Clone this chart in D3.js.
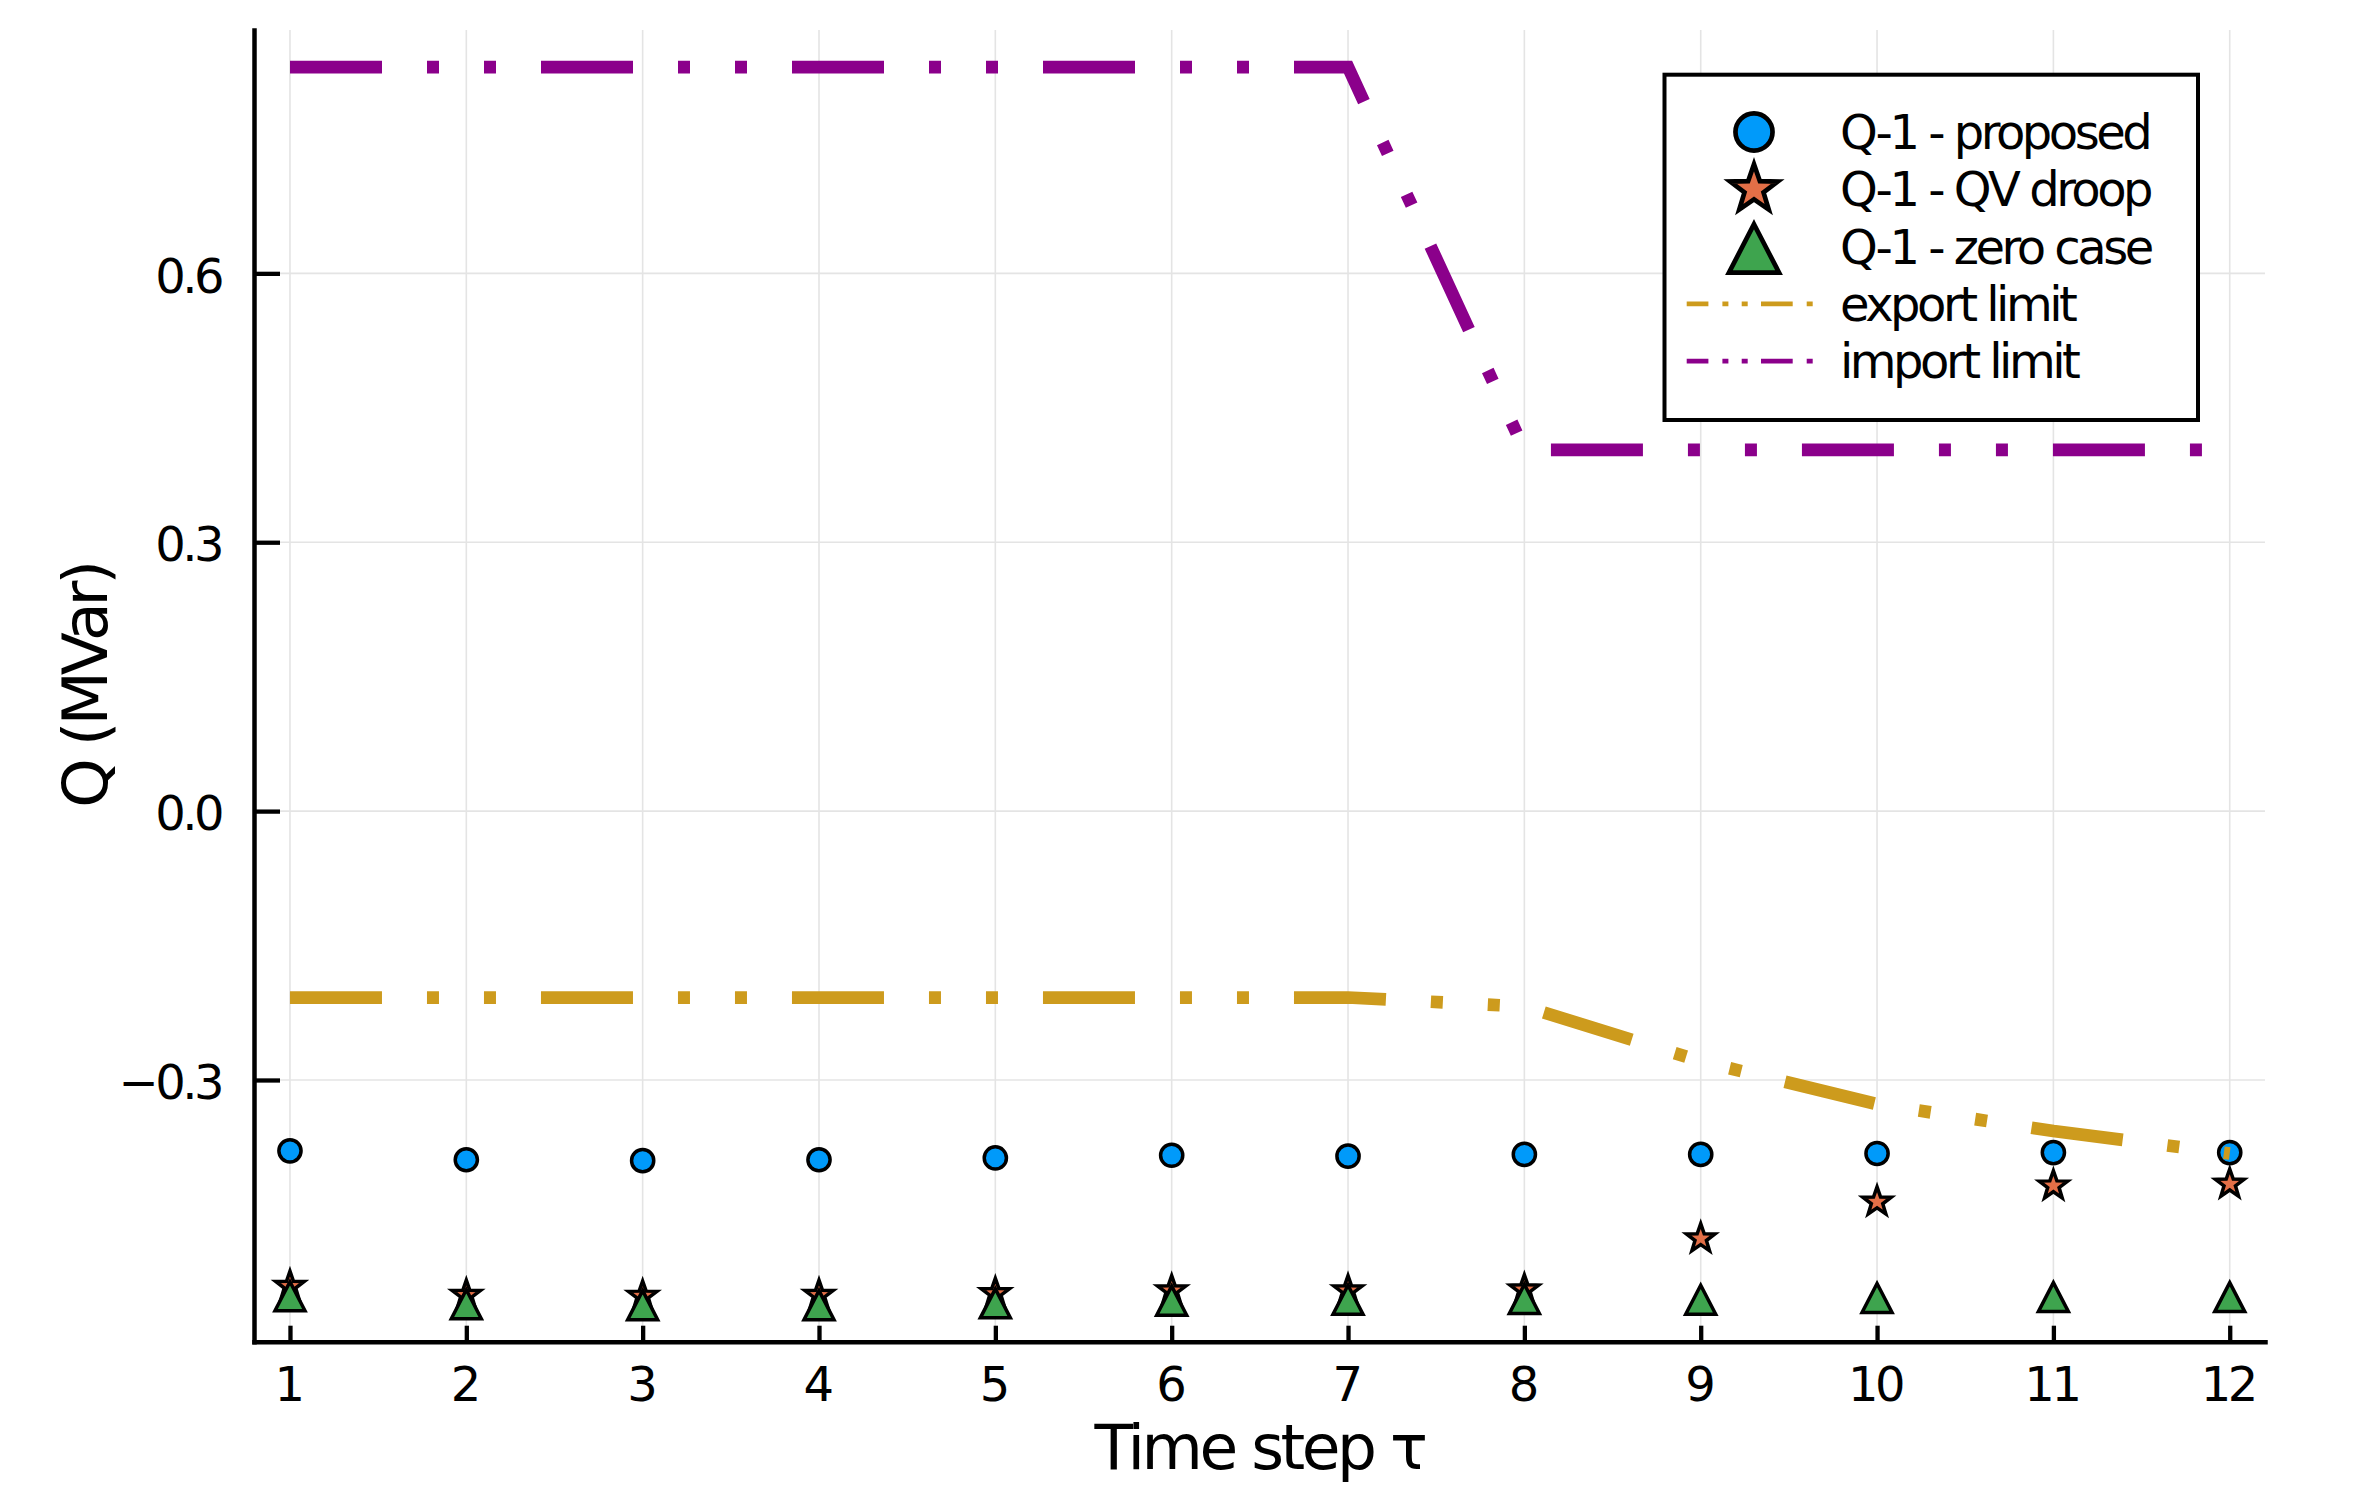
<!DOCTYPE html>
<html>
<head>
<meta charset="utf-8">
<script src="https://cdn.jsdelivr.net/npm/d3@7"></script>
<style>
  body { margin: 0; background: #fff; }
  svg { display: block; }
</style>
</head>
<body>
<svg id="chart" width="2365" height="1494"></svg>
<script>
(function () {

    'use strict';

    // data
    var timeSteps = [1, 2, 3, 4, 5, 6, 7, 8, 9, 10, 11, 12];
    var qProposed = [-0.379, -0.389, -0.390, -0.389, -0.387, -0.384, -0.385, -0.383, -0.383, -0.382, -0.381, -0.381];
    var qDroop = [-0.530, -0.540, -0.541, -0.540, -0.538, -0.535, -0.535, -0.534, -0.477, -0.436, -0.418, -0.416];
    var qZero = [-0.540, -0.549, -0.550, -0.550, -0.548, -0.545, -0.544, -0.543, -0.544, -0.542, -0.541, -0.541];
    var exportLimit = [-0.208, -0.208, -0.208, -0.208, -0.208, -0.208, -0.208, -0.218, -0.279, -0.327, -0.357, -0.382];
    var importLimit = [0.830, 0.830, 0.830, 0.830, 0.830, 0.830, 0.830, 0.403, 0.403, 0.403, 0.403, 0.403];

    var yTicks = [-0.3, 0.0, 0.3, 0.6];
    var yTickLabels = ["\u22120.3", "0.0", "0.3", "0.6"];

    var seriesNames = ["Q-1 - proposed", "Q-1 - QV droop", "Q-1 - zero case", "export limit", "import limit"];

    var font = "'DejaVu Sans', sans-serif";
    var svg = d3.select("#chart");
    var left = 254, right = 2265, top = 30, bottom = 1341.7;

    var x = d3.scaleLinear().domain([0.796, 12.2]).range([left, right]);
    var y = d3.scaleLinear().domain([-0.592, 0.8715]).range([bottom, top]);

    svg.append("defs").append("clipPath").attr("id", "plotclip")
        .append("rect")
        .attr("x", left).attr("y", top)
        .attr("width", right - left).attr("height", bottom - top);

    // grid
    var grid = svg.append("g").attr("stroke", "#e4e4e4").attr("stroke-width", 1.6);
    grid.selectAll("line.v")
        .data(timeSteps)
        .enter().append("line")
        .attr("x1", function (d) { return x(d); })
        .attr("x2", function (d) { return x(d); })
        .attr("y1", top).attr("y2", bottom);
    grid.selectAll("line.h")
        .data(yTicks)
        .enter().append("line")
        .attr("y1", function (d) { return y(d); })
        .attr("y2", function (d) { return y(d); })
        .attr("x1", left).attr("x2", right);

    // markers
    function markerPath(kind, s) {
        var p = d3.path();
        if (kind === "circle") {
            var r = 11.1 * s;
            p.moveTo(r, 0);
            p.arc(0, 0, r, 0, 2 * Math.PI);
            p.closePath();
        } else if (kind === "star") {
            for (var i = 0; i < 10; i++) {
                var rad = (i % 2 === 0 ? 15 : 6) * s;
                var a = -Math.PI / 2 + i * Math.PI / 5;
                if (i === 0) p.moveTo(rad * Math.cos(a), rad * Math.sin(a));
                else p.lineTo(rad * Math.cos(a), rad * Math.sin(a));
            }
            p.closePath();
        } else {
            p.moveTo(0, -13.4 * s);
            p.lineTo(15 * s, 15.6 * s);
            p.lineTo(-15 * s, 15.6 * s);
            p.closePath();
        }
        return p.toString();
    }

    var markerSeries = [
        { name: seriesNames[0], values: qProposed, kind: "circle", fill: "#009AFA" },
        { name: seriesNames[1], values: qDroop, kind: "star", fill: "#E36F47" },
        { name: seriesNames[2], values: qZero, kind: "triangle", fill: "#3EA44E" }
    ];

    markerSeries.forEach(function (ser) {
        svg.append("g")
            .selectAll("path")
            .data(timeSteps.map(function (t, i) { return { t: t, v: ser.values[i] }; }))
            .enter().append("path")
            .attr("transform", function (d) { return "translate(" + x(d.t) + "," + y(d.v) + ")"; })
            .attr("d", markerPath(ser.kind, 1))
            .attr("fill", ser.fill)
            .attr("stroke", "#000")
            .attr("stroke-width", 3.5)
            .attr("stroke-linejoin", "miter");
    });

    // limit lines
    var line = d3.line()
        .x(function (d) { return x(d.t); })
        .y(function (d) { return y(d.v); });

    var lineSeries = [
        { name: seriesNames[3], values: exportLimit, color: "#CD9B1D" },
        { name: seriesNames[4], values: importLimit, color: "#8B008B" }
    ];

    lineSeries.forEach(function (ser) {
        svg.append("path")
            .datum(timeSteps.map(function (t, i) { return { t: t, v: ser.values[i] }; }))
            .attr("clip-path", "url(#plotclip)")
            .attr("d", line)
            .attr("fill", "none")
            .attr("stroke", ser.color)
            .attr("stroke-width", 12.7)
            .attr("stroke-dasharray", "92 45 12 45 12 45")
            .attr("stroke-linecap", "butt")
            .attr("stroke-linejoin", "miter");
    });

    // axes
    var xAxis = svg.append("g")
        .attr("transform", "translate(0," + bottom + ")")
        .call(d3.axisBottom(x).tickValues(timeSteps).tickFormat(d3.format("d"))
            .tickSize(-16).tickSizeOuter(0).tickPadding(25));

    var yAxis = svg.append("g")
        .attr("transform", "translate(" + left + ",0)")
        .call(d3.axisLeft(y).tickValues(yTicks)
            .tickFormat(function (d, i) { return yTickLabels[i]; })
            .tickSize(-26).tickSizeOuter(0).tickPadding(33));

    [xAxis, yAxis].forEach(function (ax) {
        ax.attr("font-family", font).attr("font-size", 48);
        ax.select(".domain").attr("stroke-width", 4.5).attr("stroke-linecap", "square");
        ax.selectAll(".tick line").attr("stroke-width", 4.3);
        ax.selectAll(".tick text").attr("fill", "#000").attr("letter-spacing", "-3.5px");
    });
    xAxis.selectAll(".tick text").attr("dx", -2.5);
    yAxis.selectAll(".tick text").attr("dy", "0.39em");

    svg.append("text")
        .attr("x", (left + right) / 2)
        .attr("y", 1469)
        .attr("text-anchor", "middle")
        .attr("font-family", font)
        .attr("font-size", 63)
        .attr("letter-spacing", "-3.5px")
        .text("Time step \u03c4");

    svg.append("text")
        .attr("transform", "translate(107," + (top + bottom) / 2 + ") rotate(-90)")
        .attr("text-anchor", "middle")
        .attr("font-family", font)
        .attr("font-size", 63)
        .attr("letter-spacing", "-4px")
        .text("Q (MVar)");

    // legend
    var legend = svg.append("g");
    legend.append("rect")
        .attr("x", 1664.5).attr("y", 74.7)
        .attr("width", 533.5).attr("height", 345.3)
        .attr("fill", "#fff")
        .attr("stroke", "#000")
        .attr("stroke-width", 4);

    var rows = legend.selectAll("g.row")
        .data(markerSeries.concat(lineSeries))
        .enter().append("g")
        .attr("transform", function (d, i) { return "translate(0," + (132 + i * 57.3) + ")"; });

    rows.filter(function (d) { return d.kind; })
        .append("path")
        .attr("transform", "translate(1754,0)")
        .attr("d", function (d) { return markerPath(d.kind, 1.67); })
        .attr("fill", function (d) { return d.fill; })
        .attr("stroke", "#000")
        .attr("stroke-width", 4.7)
        .attr("stroke-linejoin", "miter");

    rows.filter(function (d) { return d.color; })
        .append("line")
        .attr("x1", 1686.7).attr("x2", 1821)
        .attr("stroke", function (d) { return d.color; })
        .attr("stroke-width", 4.7)
        .attr("stroke-dasharray", "31.7 14 6 13.3 6 13.3")
        .attr("stroke-dashoffset", 10);

    rows.append("text")
        .attr("x", 1840)
        .attr("y", 17)
        .attr("font-family", font)
        .attr("font-size", 48)
        .attr("letter-spacing", "-3.5px")
        .text(function (d) { return d.name; });
})();
</script>
</body>
</html>
